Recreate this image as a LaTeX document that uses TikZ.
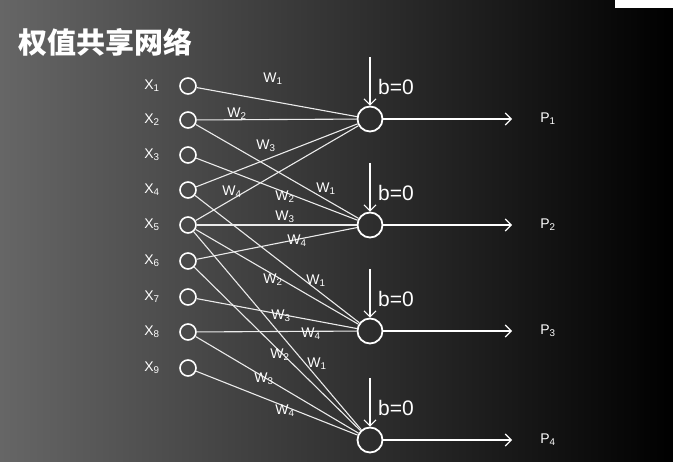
\documentclass[tikz,border=0pt]{standalone}
\usepackage{fontspec}
\usetikzlibrary{arrows.meta}
\setmainfont{Liberation Sans}
\newfontfamily\cjk{Noto Sans CJK SC}
\begin{document}
\begin{tikzpicture}[x=1pt,y=-1pt,
  inp/.style={circle,draw=white,line width=1.6pt,minimum size=16pt,inner sep=0},
  outp/.style={circle,draw=white,line width=1.8pt,minimum size=25pt,inner sep=0},
  lab/.style={text=white,font=\fontsize{14}{14}\selectfont,inner sep=0},
  wl/.style={text=white,font=\fontsize{14}{14}\selectfont,inner sep=0},
  ln/.style={draw=white!92!black,line width=1.1pt},
  ar/.style={draw=white,line width=1.1pt,-{Straight Barb[length=6pt]}}]
\shade[left color=black!60,right color=black,middle color=black!80] (0,0) rectangle (673,462);
\fill[white] (615,0) rectangle (673,8);
\useasboundingbox (0,0) rectangle (673,462);
\node[text=white,font=\cjk\bfseries\fontsize{29}{29}\selectfont,anchor=west] (title) at (15,42) {权值共享网络};
\foreach \i/\y in {1/86,2/120,3/155,4/190,5/225,6/261,7/297,8/332,9/368}{
  \node[inp] (x\i) at (188,\y) {};
  \node[lab] (lx\i) at (152,\y) {X\textsubscript{\i}};
}
\foreach \j/\y in {1/119,2/225,3/331,4/440}{
  \node[outp] (o\j) at (370,\y) {};
  \coordinate (t\j) at (370,\y-62);
  \draw[ar] (t\j) -- (o\j);
  \node[text=white,font=\fontsize{21}{21}\selectfont,anchor=west,inner sep=0] (b\j) at (378,\y-32) {b=0};
  \coordinate (e\j) at (512,\y);
  \draw[ar] (o\j) -- (e\j);
  \node[lab] (p\j) at (548,\y) {P\textsubscript{\j}};
}
\foreach \a/\b in {1/1,2/1,4/1,5/1,2/2,3/2,5/2,6/2,4/3,5/3,7/3,8/3,5/4,6/4,8/4,9/4}
  \draw[ln] (x\a) -- (o\b);
\node[wl] (w11) at (273,79) {W\textsubscript{1}};
\node[wl] (w12) at (237,114) {W\textsubscript{2}};
\node[wl] (w13) at (266,146) {W\textsubscript{3}};
\node[wl] (w14) at (232,192) {W\textsubscript{4}};
\node[wl] (w21) at (326,189) {W\textsubscript{1}};
\node[wl] (w22) at (285,197) {W\textsubscript{2}};
\node[wl] (w23) at (285,217) {W\textsubscript{3}};
\node[wl] (w24) at (297,241) {W\textsubscript{4}};
\node[wl] (w31) at (316,281) {W\textsubscript{1}};
\node[wl] (w32) at (273,280) {W\textsubscript{2}};
\node[wl] (w33) at (281,316) {W\textsubscript{3}};
\node[wl] (w34) at (311,334) {W\textsubscript{4}};
\node[wl] (w41) at (317,364) {W\textsubscript{1}};
\node[wl] (w42) at (280,355) {W\textsubscript{2}};
\node[wl] (w43) at (264,379) {W\textsubscript{3}};
\node[wl] (w44) at (285,411) {W\textsubscript{4}};
\end{tikzpicture}
\end{document}
